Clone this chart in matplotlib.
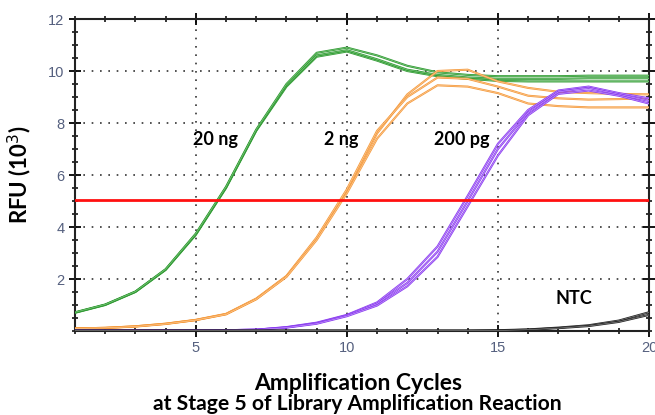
import matplotlib
matplotlib.use("Agg")
import matplotlib.pyplot as plt
from matplotlib.ticker import MultipleLocator

cycles = list(range(1, 21))

green_reps = [
    [0.70, 1.00, 1.50, 2.35, 3.70, 5.50, 7.70, 9.40, 10.55, 10.75, 10.40, 10.00, 9.80, 9.70, 9.62, 9.60, 9.60, 9.60, 9.60, 9.60],
    [0.71, 1.01, 1.51, 2.36, 3.72, 5.52, 7.72, 9.45, 10.60, 10.80, 10.45, 10.05, 9.85, 9.75, 9.70, 9.70, 9.70, 9.72, 9.72, 9.72],
    [0.72, 1.02, 1.52, 2.38, 3.75, 5.55, 7.75, 9.50, 10.70, 10.90, 10.60, 10.20, 9.95, 9.85, 9.80, 9.80, 9.80, 9.82, 9.82, 9.82],
]
orange_reps = [
    [0.10, 0.12, 0.18, 0.28, 0.42, 0.65, 1.23, 2.10, 3.55, 5.40, 7.60, 9.10, 10.00, 10.05, 9.60, 9.35, 9.20, 9.15, 9.12, 9.10],
    [0.10, 0.12, 0.18, 0.28, 0.43, 0.66, 1.25, 2.12, 3.60, 5.45, 7.70, 9.00, 9.75, 9.70, 9.40, 9.05, 8.95, 8.90, 8.92, 8.95],
    [0.10, 0.12, 0.17, 0.27, 0.42, 0.64, 1.22, 2.08, 3.50, 5.30, 7.40, 8.75, 9.45, 9.40, 9.15, 8.75, 8.65, 8.60, 8.60, 8.60],
]
purple_reps = [
    [0.02, 0.02, 0.02, 0.02, 0.02, 0.03, 0.05, 0.15, 0.32, 0.62, 1.10, 2.00, 3.25, 5.20, 7.20, 8.50, 9.25, 9.40, 9.15, 8.95],
    [0.02, 0.02, 0.02, 0.02, 0.02, 0.03, 0.05, 0.14, 0.30, 0.60, 1.05, 1.85, 3.05, 5.00, 7.00, 8.40, 9.20, 9.35, 9.10, 8.85],
    [0.02, 0.02, 0.02, 0.02, 0.02, 0.03, 0.05, 0.13, 0.28, 0.57, 0.98, 1.72, 2.85, 4.80, 6.75, 8.30, 9.12, 9.25, 9.05, 8.75],
]
ntc_reps = [
    [0.02, 0.02, 0.02, 0.02, 0.02, 0.02, 0.02, 0.02, 0.02, 0.02, 0.02, 0.02, 0.02, 0.02, 0.03, 0.06, 0.13, 0.22, 0.40, 0.72],
    [0.01, 0.01, 0.01, 0.01, 0.01, 0.01, 0.01, 0.01, 0.01, 0.01, 0.01, 0.01, 0.01, 0.01, 0.02, 0.05, 0.11, 0.19, 0.35, 0.62],
]
threshold = 5.05

labels = ["20 ng", "2 ng", "200 pg", "NTC"]
label_pos = [(5.65, 7.35), (9.8, 7.35), (13.8, 7.35), (17.5, 1.25)]

fig = plt.figure(figsize=(6.55, 4.15), dpi=100)
ax = fig.add_axes([0.1145, 0.2024, 0.8763, 0.7518])

tick_color = "#55607f"
series = [
    (green_reps, "#2f9a32", "#8fd08f"),
    (orange_reps, "#f59a3c", "#fcd2a6"),
    (purple_reps, "#8a3cf0", "#cfa8fb"),
    (ntc_reps, "#222222", "#999999"),
]
for reps, dark, light in series:
    for rep in reps:
        ax.plot(cycles, rep, color=dark, linewidth=1.5, zorder=3)
        ax.plot(cycles, rep, color=light, linewidth=0.4, zorder=3)

ax.axhline(threshold, color="#ff1010", linewidth=2.0, zorder=4)

ax.set_xlim(1, 20)
ax.set_ylim(0, 12)
ax.xaxis.set_major_locator(MultipleLocator(5))
ax.xaxis.set_minor_locator(MultipleLocator(1))
ax.yaxis.set_major_locator(MultipleLocator(2))
ax.yaxis.set_minor_locator(MultipleLocator(0.5))
ax.set_yticks([2, 4, 6, 8, 10, 12])
ax.grid(True, which="major", color="#333333", linestyle=(0, (1, 4)), linewidth=1.2)
ax.tick_params(which="both", direction="inout", top=True, right=True, colors="black",
               labelcolor=tick_color, labelsize=10.5)
ax.tick_params(which="major", length=8, width=1.3)
ax.tick_params(which="minor", length=5, width=1.1)
for tl in ax.get_xticklabels() + ax.get_yticklabels():
    tl.set_fontfamily("Liberation Sans")
for s in ax.spines.values():
    s.set_linewidth(1.5)
    s.set_color("#222222")

for text, (x, y) in zip(labels, label_pos):
    ax.text(x, y, text, ha="center", va="center", fontsize=13, fontweight="bold",
            family="Lato", zorder=5)

fig.text(0.03, 0.58, "RFU (10$^{3}$)", rotation=90, ha="center", va="center",
         fontsize=16, fontweight="bold", family="Lato")
fig.text(0.547, 0.077, "Amplification Cycles", ha="center", va="center",
         fontsize=16.5, fontweight="bold", family="Lato")
fig.text(0.545, 0.026, "at Stage 5 of Library Amplification Reaction", ha="center",
         va="center", fontsize=15.2, fontweight="bold", family="Lato")

fig.savefig("out.png", dpi=100)
